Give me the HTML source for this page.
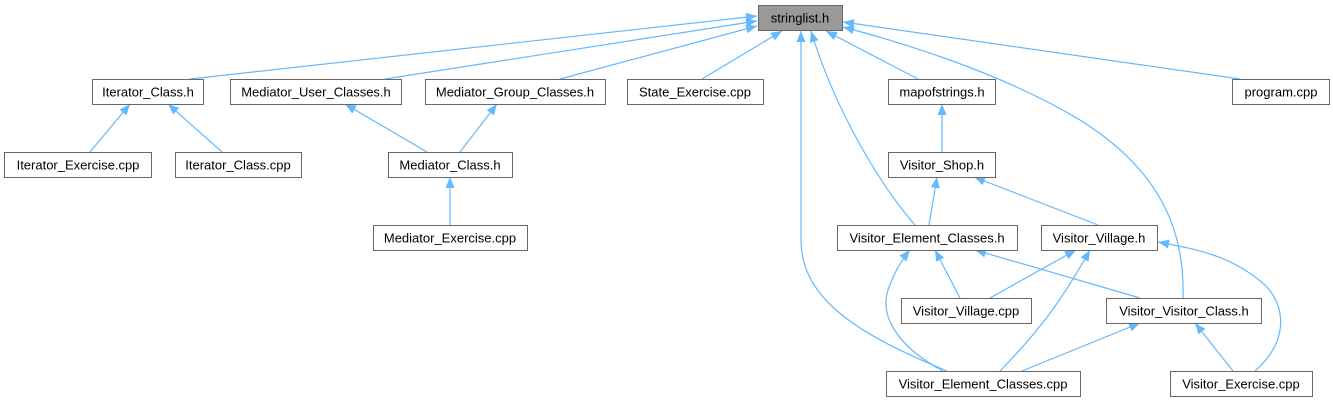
<!DOCTYPE html>
<html><head><meta charset="utf-8"><style>
html,body{margin:0;padding:0;background:#fff;}
svg{display:block;}
text{font-family:"Liberation Sans",Arial,sans-serif;font-size:13px;fill:#000;text-anchor:middle;}
.b{fill:#fff;stroke:#666;stroke-width:1;}
.e{fill:none;stroke:#63b8ff;stroke-width:1.2;marker-end:url(#a);}
</style></head><body>
<svg width="1333" height="403" viewBox="0 0 1333 403" xmlns="http://www.w3.org/2000/svg">
<defs>
<marker id="a" markerUnits="userSpaceOnUse" markerWidth="12" markerHeight="10" refX="11" refY="5" orient="auto">
<path d="M0,0.5 L11,5 L0,9.5 Z" fill="#63b8ff"/>
</marker>
</defs>
<!-- edges -->
<path class="e" d="M190,79 L757,16"/>
<path class="e" d="M385,79 L757,21"/>
<path class="e" d="M560,79 L757,26"/>
<path class="e" d="M702,79 L782,31"/>
<path class="e" d="M947,371 C860,335 801,300 801,240 L801,31"/>
<path class="e" d="M915,225 C880,185 835,110 811,31"/>
<path class="e" d="M918,79 L826,31"/>
<path class="e" d="M1183,298 C1185,230 1160,170 1080,120 C1000,72 900,42 843,27"/>
<path class="e" d="M1240,79 L843,22"/>
<path class="e" d="M90,152 L130,104"/>
<path class="e" d="M222,152 L168,104"/>
<path class="e" d="M427,152 L345,104"/>
<path class="e" d="M460,152 L497,104"/>
<path class="e" d="M450,225 L450,177"/>
<path class="e" d="M942,152 L942,104"/>
<path class="e" d="M929,225 L937,177"/>
<path class="e" d="M1098,225 L974,177"/>
<path class="e" d="M960,298 L935,250"/>
<path class="e" d="M990,298 L1076,250"/>
<path class="e" d="M1140,298 L975,250"/>
<path class="e" d="M943,371 C895,345 880,315 888,290 C893,275 900,262 910,250"/>
<path class="e" d="M1000,371 C1040,330 1062,300 1090,250"/>
<path class="e" d="M1022,371 L1140,323"/>
<path class="e" d="M1233,371 L1195,323"/>
<path class="e" d="M1255,371 C1290,340 1285,305 1265,285 C1232,256 1200,250 1158,242"/>
<!-- nodes -->
<rect x="758.5" y="5.5" width="84" height="25" fill="#999" stroke="#666"/><text x="800" y="22.5">stringlist.h</text>

<rect class="b" x="92.5" y="79.5" width="111" height="25"/><text x="148" y="96.5">Iterator_Class.h</text>
<rect class="b" x="230.5" y="79.5" width="171" height="25"/><text x="316" y="96.5">Mediator_User_Classes.h</text>
<rect class="b" x="425.5" y="79.5" width="180" height="25"/><text x="515" y="96.5">Mediator_Group_Classes.h</text>
<rect class="b" x="627.5" y="79.5" width="136" height="25"/><text x="695" y="96.5">State_Exercise.cpp</text>
<rect class="b" x="888.5" y="79.5" width="107" height="25"/><text x="942" y="96.5">mapofstrings.h</text>
<rect class="b" x="1232.5" y="79.5" width="97" height="25"/><text x="1281" y="96.5">program.cpp</text>

<rect class="b" x="4.5" y="152.5" width="147" height="25"/><text x="78" y="169.5">Iterator_Exercise.cpp</text>
<rect class="b" x="175.5" y="152.5" width="126" height="25"/><text x="238" y="169.5">Iterator_Class.cpp</text>
<rect class="b" x="388.5" y="152.5" width="124" height="25"/><text x="450" y="169.5">Mediator_Class.h</text>
<rect class="b" x="888.5" y="152.5" width="107" height="25"/><text x="942" y="169.5">Visitor_Shop.h</text>

<rect class="b" x="373.5" y="225.5" width="154" height="25"/><text x="450" y="242.5">Mediator_Exercise.cpp</text>
<rect class="b" x="837.5" y="225.5" width="180" height="25"/><text x="927" y="242.5">Visitor_Element_Classes.h</text>
<rect class="b" x="1041.5" y="225.5" width="116" height="25"/><text x="1099" y="242.5">Visitor_Village.h</text>

<rect class="b" x="901.5" y="298.5" width="130" height="25"/><text x="966" y="315.5">Visitor_Village.cpp</text>
<rect class="b" x="1106.5" y="298.5" width="155" height="25"/><text x="1184" y="315.5">Visitor_Visitor_Class.h</text>

<rect class="b" x="886.5" y="371.5" width="194" height="25"/><text x="983" y="388.5">Visitor_Element_Classes.cpp</text>
<rect class="b" x="1170.5" y="371.5" width="142" height="25"/><text x="1241" y="388.5">Visitor_Exercise.cpp</text>
</svg>
</body></html>
